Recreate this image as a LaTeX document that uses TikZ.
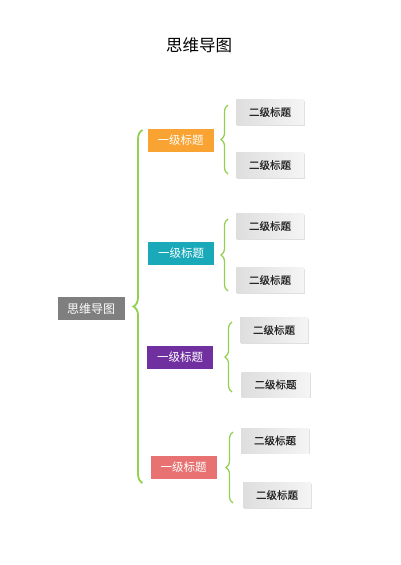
\documentclass[tikz,border=0pt]{standalone}
\usepackage{fontspec}
\setmainfont{Noto Sans CJK SC}
\newfontfamily\boldishcjk[FakeBold=0.4]{Noto Sans CJK SC}
\usetikzlibrary{decorations.pathreplacing,shadows}
\definecolor{bracegreen}{HTML}{92D050}
\definecolor{rootgray}{HTML}{7F7F7F}
\definecolor{c1}{HTML}{F9A332}
\definecolor{c2}{HTML}{19A9B9}
\definecolor{c3}{HTML}{7030A0}
\definecolor{c4}{HTML}{E87272}
\tikzset{
  lvone/.style={minimum width=66pt, minimum height=23pt, inner sep=0pt, text=white, font=\fontsize{11.5}{12}\selectfont},
  lvtwo/.style={minimum width=68pt, minimum height=25pt, inner sep=0pt, text=black!85, font=\boldishcjk\fontsize{10.5}{11}\selectfont,
    left color=black!13, right color=black!4, drop shadow={shadow xshift=1pt, shadow yshift=-1pt, opacity=0.25}},
  bigbrace/.style={draw=bracegreen, line width=1.8pt, decorate, decoration={brace, amplitude=9pt}},
  smallbrace/.style={draw=bracegreen, line width=1.2pt, decorate, decoration={brace, amplitude=7pt}}
}
\begin{document}
\begin{tikzpicture}[x=1pt,y=-1pt]
\useasboundingbox[fill=white] (0,0) rectangle (400,565);
\node (title) at (199,45) {\fontsize{16.5}{18}\selectfont 思维导图};
\node[fill=rootgray, minimum width=67pt, minimum height=23pt, inner sep=0pt, text=white, font=\fontsize{12}{13}\selectfont] (root) at (91,308.5) {思维导图};
% level 1
\node[lvone, fill=c1] (a) at (180.5,140) {一级标题};
\node[lvone, fill=c2] (b) at (181,253) {一级标题};
\node[lvone, fill=c3] (c) at (180,357) {一级标题};
\node[lvone, fill=c4] (d) at (183.5,467) {一级标题};
% level 2
\node[lvtwo] (a1) at (270,112) {二级标题};
\node[lvtwo] (a2) at (270,165) {二级标题};
\node[lvtwo] (b1) at (270,226) {二级标题};
\node[lvtwo] (b2) at (270,280) {二级标题};
\node[lvtwo] (c1n) at (274,330) {二级标题};
\node[lvtwo] (c2n) at (275.5,384.5) {二级标题};
\node[lvtwo] (d1) at (275,440.5) {二级标题};
\node[lvtwo] (d2) at (277,495) {二级标题};
% braces
\coordinate (bbt) at (142.5,130);
\coordinate (bbb) at (142.5,483);
\draw[bigbrace] (bbb) -- (bbt);
\coordinate (at) at (228,105);
\coordinate (ab) at (228,174);
\draw[smallbrace] (ab) -- (at);
\coordinate (bt) at (228,219);
\coordinate (bb) at (228,291);
\draw[smallbrace] (bb) -- (bt);
\coordinate (ct) at (232,322);
\coordinate (cb) at (232,392);
\draw[smallbrace] (cb) -- (ct);
\coordinate (dt) at (233,432);
\coordinate (db) at (233,503);
\draw[smallbrace] (db) -- (dt);
\end{tikzpicture}
\end{document}
